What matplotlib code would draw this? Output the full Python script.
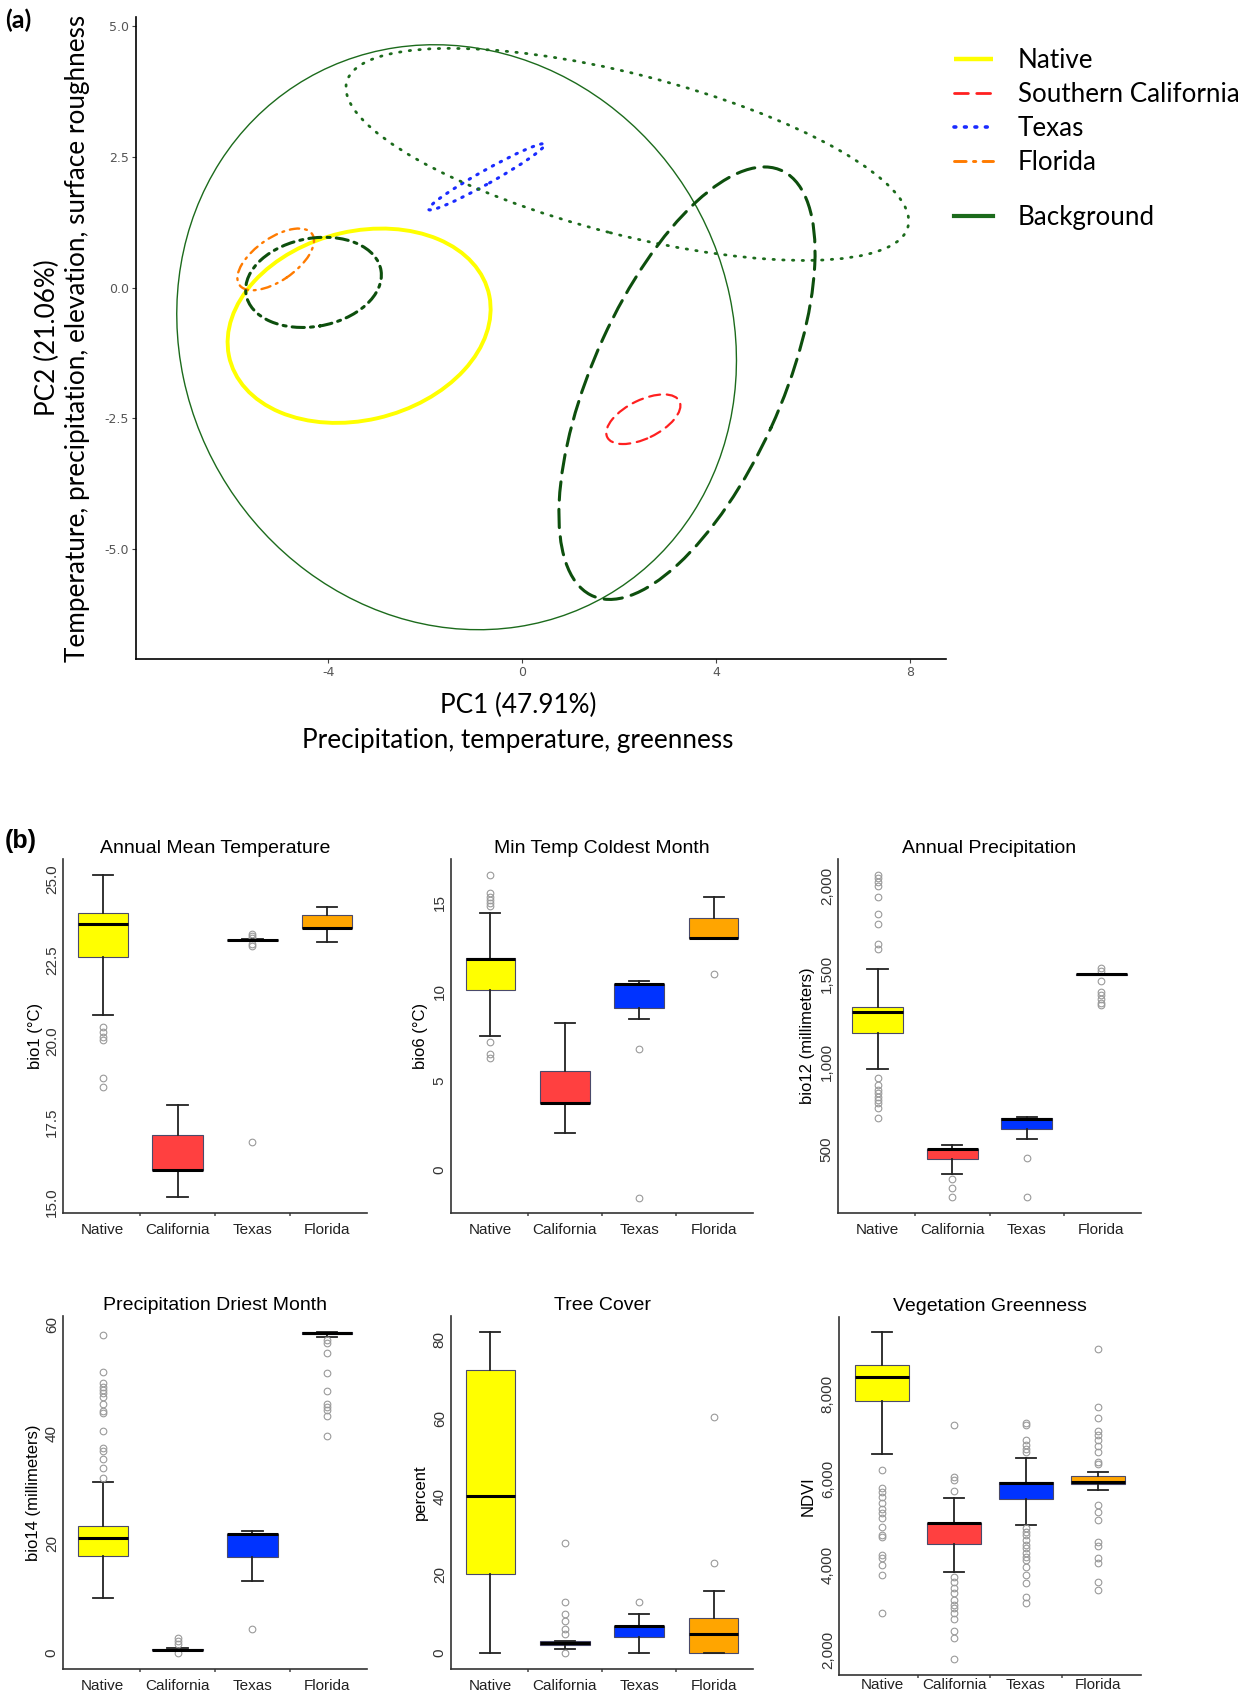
import matplotlib
matplotlib.use('Agg')
import matplotlib.pyplot as plt
from matplotlib.patches import Ellipse
from matplotlib.lines import Line2D
from matplotlib.ticker import FuncFormatter

plt.rcParams['axes.unicode_minus'] = False

# ---------------- panel (a): PCA ellipses (data units) ----------------
ell_group = ['Native', 'Southern California', 'Texas', 'Florida',
             'Background', 'Background', 'Background', 'Background']
ell_cx = [-3.36, 2.50, -0.73, -5.08, -1.35, 2.17, 3.40, -4.30]
ell_cy = [-0.73, -2.52, 2.12, 0.54, -0.95, 2.55, -1.83, 0.10]
ell_w = [5.49, 1.64, 2.70, 1.79, 11.84, 11.90, 9.03, 2.82]
ell_h = [3.62, 0.74, 0.26, 0.83, 10.88, 3.08, 3.86, 1.69]
ell_angle = [12, 24, 27.5, 32, -34.6, -13.3, 63.8, 9]

pc_xticks = [-4, 0, 4, 8]
pc_yticks = [-5.0, -2.5, 0.0, 2.5, 5.0]

# ---------------- panel (b): box plot summaries ----------------
categories = ['Native', 'California', 'Texas', 'Florida']
titles = ['Annual Mean Temperature', 'Min Temp Coldest Month', 'Annual Precipitation',
          'Precipitation Driest Month', 'Tree Cover', 'Vegetation Greenness']
ylabels = ['bio1 (\u00b0C)', 'bio6 (\u00b0C)', 'bio12 (millimeters)',
           'bio14 (millimeters)', 'percent', 'NDVI']

whishi = [[25.13, 18.02, 23.15, 24.15],
          [14.4, 8.25, 10.59, 15.3],
          [1528, 525, 686, 1500],
          [31.1, 0.8, 22.2, 58.6],
          [82.1, 3.0, 10.0, 15.9],
          [9441, 5562, 6497, 6170]]
q3 = [[23.95, 17.09, 23.12, 23.9],
      [11.87, 5.55, 10.4, 14.12],
      [1309, 504, 680, 1497],
      [23.2, 0.7, 21.7, 58.6],
      [72.2, 3.0, 7.0, 8.9],
      [8678, 4977, 5936, 6068]]
med = [[23.62, 16.01, 23.12, 23.51],
       [11.8, 3.71, 10.4, 13.03],
       [1280, 500, 675, 1497],
       [20.9, 0.55, 21.7, 58.4],
       [40.0, 2.55, 7.0, 4.9],
       [8390, 4977, 5920, 5936]]
q1 = [[22.59, 16.01, 23.12, 23.51],
      [10.08, 3.71, 9.09, 13.03],
      [1160, 443, 614, 1495],
      [17.7, 0.4, 17.4, 58.2],
      [20.2, 2.0, 4.0, 0.0],
      [7829, 4479, 5523, 5881]]
whislo = [[20.82, 15.18, 23.1, 23.07],
          [7.5, 2.06, 8.45, 13.03],
          [959, 358, 560, 1490],
          [10.0, 0.2, 13.1, 57.7],
          [0.0, 1.0, 0.0, 0.0],
          [6582, 3825, 4923, 5756]]
fliers = [
    [[20.44, 20.29, 20.13, 20.03, 18.86, 18.59], [],
     [23.3, 23.25, 23.2, 23.0, 22.95, 16.87], []],
    [[16.55, 15.52, 15.33, 15.15, 14.96, 14.81, 7.18, 6.48, 6.28], [],
     [6.78, -1.6], [10.98]],
    [[2062, 2043, 2024, 1999, 1938, 1838, 1783, 1669, 1639,
      904, 866, 838, 819, 800, 781, 762, 733, 677],
     [329, 278, 230], [449, 227],
     [1531, 1518, 1458, 1397, 1378, 1356, 1335, 1322]],
    [[58.05, 51.3, 49.2, 48.6, 48.0, 47.4, 46.7, 45.5, 44.2, 43.8,
      40.4, 37.3, 36.9, 35.4, 33.8, 31.9],
     [2.7, 2.1, 1.6, 0.0], [4.4],
     [57.1, 56.5, 54.8, 51.1, 47.8, 45.4, 44.9, 44.4, 43.3, 39.6]],
    [[], [28, 13, 10, 8.1, 6.1, 4.9, 0.0], [13], [60.2, 23]],
    [[6224, 5780, 5702, 5585, 5445, 5289, 5196, 5079, 4884, 4689, 4635,
      4222, 4160, 3988, 3755, 2859],
     [7276, 6053, 5975, 5717, 3716, 3598, 3443, 3326, 3170, 3053, 2975,
      2859, 2718, 2446, 2274, 1799],
     [7314, 7260, 6909, 6793, 6715, 6637, 4845, 4767, 4689, 4572, 4456,
      4378, 4261, 4183, 4105, 3949, 3755, 3560, 3248, 3093],
     [9036, 7688, 7439, 7120, 7026, 6909, 6770, 6637, 6403, 6348, 5390,
      5235, 5040, 4534, 4432, 4144, 4027, 3598, 3404]],
]
yticks = [[15.0, 17.5, 20.0, 22.5, 25.0], [0, 5, 10, 15], [500, 1000, 1500, 2000],
          [0, 20, 40, 60], [0, 20, 40, 60, 80], [2000, 4000, 6000, 8000]]
ylims = [(14.68, 25.63), (-2.46, 17.45), (137, 2153), (-3.0, 61.5), (-4.1, 86.1), (1417, 9792)]
tick_fmt = ['%.1f', '%d', 'comma', '%d', '%d', 'comma']

# ---------------- styles / layout ----------------
W, H = 1251, 1695
fig = plt.figure(figsize=(W / 100, H / 100), dpi=100)


def frac_rect(left, top, right, bottom):
    return [left / W, 1 - bottom / H, (right - left) / W, (bottom - top) / H]


ell_color = ['#ffff00', '#ff2020', '#1a2bff', '#ff7b00', '#1c6b1c', '#1c6b1c', '#0d4f0d', '#0d4f0d']
ell_lw = [2.8, 1.6, 2.2, 1.7, 1.0, 2.0, 2.2, 2.2]
ell_ls = ['-', (0, (5, 3)), (0, (0.5, 2.4)), (0, (4, 2.5, 0.8, 2.5)),
          '-', (0, (0.5, 3)), (0, (6, 3)), (0, (4, 2, 1, 2))]

ax = fig.add_axes(frac_rect(136, 17, 946, 659))
for i in range(len(ell_cx)):
    e = Ellipse((ell_cx[i], ell_cy[i]), ell_w[i], ell_h[i], angle=ell_angle[i],
                fill=False, edgecolor=ell_color[i], lw=ell_lw[i], linestyle=ell_ls[i],
                capstyle='round')
    ax.add_patch(e)
ax.set_xlim(-7.96, 8.74)
ax.set_ylim(-7.11, 5.18)
ax.set_xticks(pc_xticks)
ax.set_yticks(pc_yticks)
ax.yaxis.set_major_formatter(FuncFormatter(lambda v, p: '%.1f' % v))
ax.tick_params(length=3, width=0.8, color='#444444', labelsize=9, labelcolor='#555555', pad=2)
for s in ['top', 'right']:
    ax.spines[s].set_visible(False)
for s in ['left', 'bottom']:
    ax.spines[s].set_linewidth(1.2)
ax.set_xlabel('PC1 (47.91%)\nPrecipitation, temperature, greenness',
              family='Lato', fontsize=18.8, linespacing=1.5)
ax.xaxis.set_label_coords(0.4716, -0.053)
ax.set_ylabel('PC2 (21.06%)\nTemperature, precipitation, elevation, surface roughness',
              family='Lato', fontsize=18.8, linespacing=1.22)
ax.yaxis.set_label_coords(-0.057, 0.5)

leg_fs = 18.7
h1 = [Line2D([], [], color=ell_color[k], lw=ell_lw[k] + 0.4, linestyle=ell_ls[k],
             solid_capstyle='butt', dash_capstyle='round') for k in range(4)]
fig.legend(h1, ell_group[:4], loc='upper left', bbox_to_anchor=(954 / W, 1 - 48 / H),
           frameon=False, prop={'family': 'Lato', 'size': leg_fs}, handlelength=1.5,
           handletextpad=0.96, labelspacing=0.35, borderpad=0, borderaxespad=0)
h2 = [Line2D([], [], color=ell_color[4], lw=3)]
fig.legend(h2, ['Background'], loc='upper left', bbox_to_anchor=(954 / W, 1 - 205 / H),
           frameon=False, prop={'family': 'Lato', 'size': leg_fs}, handlelength=1.5,
           handletextpad=0.96, borderpad=0, borderaxespad=0)

fig.text(5 / W, 1 - 20 / H, '(a)', fontsize=18, fontweight='bold', family='Lato', va='center')
fig.text(5 / W, 1 - 841 / H, '(b)', fontsize=18, fontweight='bold',
         family='Liberation Sans', va='center')

# ---------------- panel (b) ----------------
box_colors = ['#ffff00', '#ff4040', '#0033ff', '#ffa500']
box_rects = [(63, 859, 367, 1213), (451, 859, 753, 1213), (838, 859, 1141, 1213),
             (63, 1316, 367, 1669), (451, 1316, 753, 1669), (839, 1317, 1141, 1675)]
box_widths = [0.67, 0.67, 0.68, 0.67, 0.67, 0.75]
xlims = [(0.47, 4.53)] * 5 + [(0.4, 4.6)]
ylab_x = [-0.066, -0.076, -0.076, -0.072, -0.076, -0.079]
xlab_pad = [7, 7, 7, 7, 7, 2]
fam = 'Liberation Sans'
positions = [1, 2, 3, 4]

for p in range(6):
    bx = fig.add_axes(frac_rect(*box_rects[p]))
    stats = []
    for j in range(4):
        stats.append({'med': med[p][j], 'q1': q1[p][j], 'q3': q3[p][j],
                      'whislo': whislo[p][j], 'whishi': whishi[p][j],
                      'fliers': fliers[p][j]})
    art = bx.bxp(stats, positions=positions, widths=box_widths[p], patch_artist=True,
                 capwidths=0.27, manage_ticks=False,
                 boxprops=dict(edgecolor='#4a4a6a', lw=0.8),
                 medianprops=dict(color='black', lw=2.2, solid_capstyle='butt'),
                 whiskerprops=dict(color='#222222', lw=1.3),
                 capprops=dict(color='#222222', lw=1.3),
                 flierprops=dict(marker='o', markerfacecolor='none', markeredgecolor='#9a9a9a',
                                 markersize=4.8, markeredgewidth=0.8))
    for patch, c in zip(art['boxes'], box_colors):
        patch.set_facecolor(c)
    bx.set_xlim(*xlims[p])
    bx.set_ylim(*ylims[p])
    bx.set_xticks(positions)
    bx.set_xticklabels(categories, family=fam, fontsize=11, color='#222222')
    bx.set_xticks([1.5, 2.5, 3.5], minor=True)
    bx.set_yticks(yticks[p])
    if tick_fmt[p] == 'comma':
        bx.yaxis.set_major_formatter(FuncFormatter(lambda v, q: '{:,.0f}'.format(v)))
    else:
        fmt = tick_fmt[p]
        bx.yaxis.set_major_formatter(FuncFormatter(lambda v, q, f=fmt: f % v))
    bx.tick_params(axis='x', which='major', length=0, pad=xlab_pad[p])
    bx.tick_params(axis='x', which='minor', length=2, width=1.2, color='#555555')
    bx.tick_params(axis='y', length=0, pad=3, labelsize=11, labelcolor='#333333')
    for lab in bx.get_yticklabels():
        lab.set_rotation(90)
        lab.set_va('center')
        lab.set_family(fam)
    for s in ['top', 'right']:
        bx.spines[s].set_visible(False)
    for s in ['left', 'bottom']:
        bx.spines[s].set_linewidth(1.2)
        bx.spines[s].set_color('#333333')
    bx.set_title(titles[p], family=fam, fontsize=14, pad=4)
    bx.set_ylabel(ylabels[p], family=fam, fontsize=12)
    bx.yaxis.set_label_coords(ylab_x[p], 0.5)

fig.savefig('out.png', dpi=100, facecolor='white')
